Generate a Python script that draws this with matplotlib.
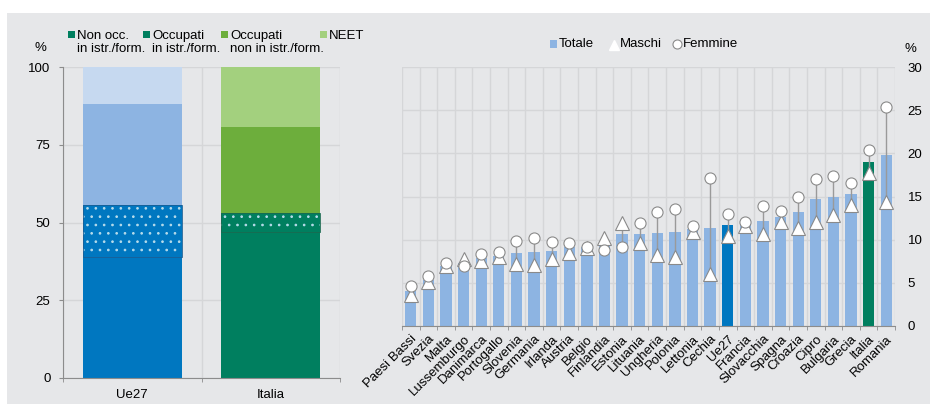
import matplotlib
matplotlib.use("Agg")
import matplotlib.pyplot as plt
from matplotlib.patches import Rectangle
import numpy as np

plt.rcParams['font.family'] = ['Liberation Sans', 'DejaVu Sans']
plt.rcParams['hatch.linewidth'] = 0.7

# ---------------- data ----------------
left_cats = ["Ue27", "Italia"]
non_occ_istr = [38.9, 47.1]
occ_istr = [16.8, 5.9]
occ_non_istr = [32.3, 27.8]
neet = [12.0, 19.2]

countries = ["Paesi Bassi", "Svezia", "Malta", "Lussemburgo", "Danimarca", "Portogallo",
             "Slovenia", "Germania", "Irlanda", "Austria", "Belgio", "Finlandia", "Estonia",
             "Lituania", "Ungheria", "Polonia", "Lettonia", "Cechia", "Ue27", "Francia",
             "Slovacchia", "Spagna", "Croazia", "Cipro", "Bulgaria", "Grecia", "Italia", "Romania"]
totale = [4.0, 5.3, 7.0, 7.3, 7.9, 8.1, 8.5, 8.6, 8.7, 9.1, 9.1, 9.5, 10.6, 10.7,
          10.8, 10.9, 11.2, 11.3, 11.7, 11.9, 12.2, 12.6, 13.2, 14.7, 15.0, 15.3, 19.0, 19.8]
maschi = [3.6, 5.1, 6.9, 7.8, 7.5, 8.0, 7.2, 7.1, 7.8, 8.5, 9.0, 10.2, 11.9, 9.6,
          8.2, 8.0, 10.9, 6.0, 10.4, 11.6, 10.6, 12.0, 11.4, 12.1, 12.8, 14.0, 17.7, 14.4]
femmine = [4.6, 5.8, 7.3, 6.9, 8.3, 8.6, 9.9, 10.2, 9.7, 9.6, 9.2, 8.8, 9.2, 11.9,
           13.2, 13.5, 11.6, 17.1, 13.0, 12.1, 13.9, 13.3, 15.0, 17.0, 17.4, 16.6, 20.4, 25.4]

# ---------------- style ----------------
BG = '#E6E7E9'
GRID = '#D5D6D8'
SPINE = '#8C8C8C'
ue_cols = ['#0077C0', '#0077C0', '#8DB4E2', '#C6D9F0']
it_cols = ['#007F5F', '#007F5F', '#6DAE3C', '#A3D07E']
light_blue = '#8DB4E2'
FS = 9.5

W, H = 934, 404
fig = plt.figure(figsize=(W / 100, H / 100), dpi=100)
fig.patch.set_facecolor('white')
fig.patches.append(Rectangle((7 / W, 0), (930 - 7) / W, (H - 13) / H,
                             transform=fig.transFigure, facecolor=BG, edgecolor='none', zorder=-10))

def fx(px):
    return px / W

def fy(py):
    return 1 - py / H

# ---------------- left chart ----------------
axL = fig.add_axes([fx(63), fy(378), fx(340) - fx(63), fy(67) - fy(378)])
axL.set_facecolor('none')
x = np.arange(len(left_cats))
bw = 0.715
segs = [non_occ_istr, occ_istr, occ_non_istr, neet]
bottom = np.zeros(len(left_cats))
for si, seg in enumerate(segs):
    cols = [ue_cols[si], it_cols[si]]
    axL.bar(x, seg, bw, bottom=bottom, color=cols, edgecolor='none', zorder=2)
    if si == 1:
        axL.bar(x, seg, bw, bottom=bottom, facecolor='none', edgecolor='#B8DCEB',
                hatch='..', linewidth=0, zorder=3)
        axL.bar(x, seg, bw, bottom=bottom, facecolor='none',
                edgecolor=['#1A5F95', '#1A6A50'], linewidth=0.6, zorder=3.5)
    bottom = bottom + np.array(seg)

axL.set_xlim(-0.5, 1.5)
axL.set_ylim(0, 100)
axL.set_yticks([0, 25, 50, 75, 100])
axL.set_xticks(x)
axL.set_xticklabels(left_cats, fontsize=FS)
axL.set_xticks([-0.5, 0.5, 1.5], minor=True)
axL.tick_params(axis='x', which='major', length=0, pad=8)
axL.tick_params(axis='x', which='minor', length=3, color=SPINE)
axL.tick_params(axis='y', length=3, color=SPINE, labelsize=FS, pad=6)
axL.grid(axis='y', color=GRID, linewidth=1, zorder=0)
axL.grid(axis='x', which='minor', color=GRID, linewidth=1, zorder=0)
for s in ['top', 'right']:
    axL.spines[s].set_visible(False)
for s in ['left', 'bottom']:
    axL.spines[s].set_color(SPINE)
axL.set_axisbelow(True)

fig.text(fx(40), fy(48), '%', fontsize=FS, ha='center', va='center')

leg_items = [(68, it_cols[0], 'Non occ.\nin istr./form.'),
             (143, it_cols[1], 'Occupati\nin istr./form.'),
             (221, it_cols[2], 'Occupati\nnon in istr./form.'),
             (320, it_cols[3], 'NEET')]
for px, c, lab in leg_items:
    fig.patches.append(Rectangle((fx(px), fy(38)), 7 / W, 7 / H, transform=fig.transFigure,
                                 facecolor=c, edgecolor='none'))
    fig.text(fx(px + 9), fy(30), lab, fontsize=FS, ha='left', va='top', linespacing=1.15)

# ---------------- right chart ----------------
axR = fig.add_axes([fx(402), fy(326), fx(895) - fx(402), fy(67) - fy(326)])
axR.set_facecolor('none')
xr = np.arange(len(countries))
bar_cols = ['#0077C0' if c == 'Ue27' else ('#007F5F' if c == 'Italia' else light_blue)
            for c in countries]
axR.bar(xr, totale, 0.64, color=bar_cols, edgecolor='none', zorder=2)
axR.vlines(xr, np.minimum(maschi, femmine), np.maximum(maschi, femmine),
           color='#9A9A9A', linewidth=1, zorder=3)
axR.plot(xr, maschi, linestyle='none', marker='^', markersize=10, markerfacecolor='white',
         markeredgecolor='#8A8A8A', markeredgewidth=0.8, zorder=4)
axR.plot(xr, femmine, linestyle='none', marker='o', markersize=8, markerfacecolor='white',
         markeredgecolor='#8A8A8A', markeredgewidth=0.8, zorder=5)

axR.set_xlim(-0.5, len(countries) - 0.5)
axR.set_ylim(0, 30)
axR.set_yticks([0, 5, 10, 15, 20, 25, 30])
axR.yaxis.tick_right()
axR.tick_params(axis='y', length=0, pad=9, labelsize=FS)
axR.set_xticks(xr)
axR.set_xticklabels(countries, rotation=45, ha='right', rotation_mode='anchor', fontsize=FS)
axR.set_xticks(np.arange(-0.5, len(countries)), minor=True)
axR.tick_params(axis='x', which='major', length=0, pad=5)
axR.tick_params(axis='x', which='minor', length=3, color=SPINE)
axR.grid(axis='y', color=GRID, linewidth=1, zorder=0)
axR.grid(axis='x', which='minor', color=GRID, linewidth=1, zorder=0)
for s in ['top', 'right', 'left']:
    axR.spines[s].set_visible(False)
axR.spines['bottom'].set_color(SPINE)
axR.set_axisbelow(True)

fig.text(fx(910), fy(49), '%', fontsize=FS, ha='center', va='center')

# right legend
ly = 44
fig.patches.append(Rectangle((fx(550), fy(ly + 3.5)), 7 / W, 7 / H, transform=fig.transFigure,
                             facecolor=light_blue, edgecolor='none'))
fig.text(fx(559), fy(ly), 'Totale', fontsize=FS, ha='left', va='center')
fig.lines.append(plt.Line2D([fx(614)], [fy(ly + 1)], transform=fig.transFigure, marker='^',
                            markersize=7, markerfacecolor='white', markeredgecolor='white',
                            linestyle='none'))
fig.text(fx(620), fy(ly), 'Maschi', fontsize=FS, ha='left', va='center')
fig.lines.append(plt.Line2D([fx(677)], [fy(ly)], transform=fig.transFigure, marker='o',
                            markersize=6.5, markerfacecolor='white', markeredgecolor='#8A8A8A',
                            markeredgewidth=0.8, linestyle='none'))
fig.text(fx(683), fy(ly), 'Femmine', fontsize=FS, ha='left', va='center')

fig.savefig('out.png', dpi=100)
